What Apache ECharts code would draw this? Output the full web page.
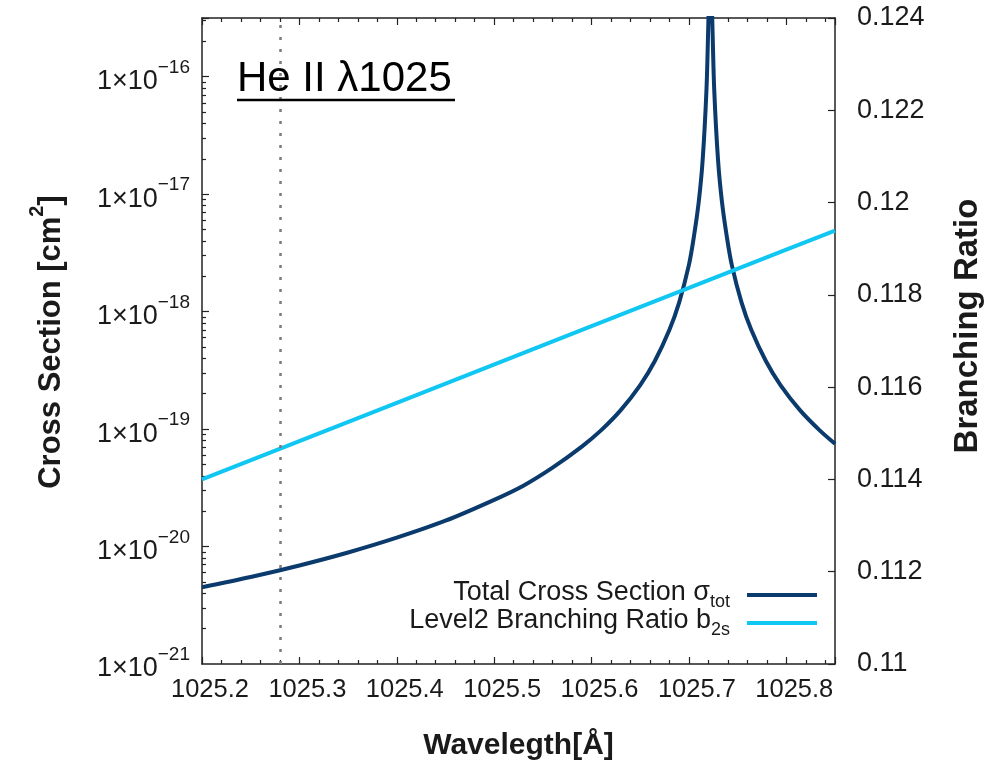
<!DOCTYPE html>
<html><head><meta charset="utf-8">
<script src="https://cdn.jsdelivr.net/npm/echarts@6/dist/echarts.min.js"></script>
<style>html,body{margin:0;padding:0;background:#fff}#c{width:999px;height:766px}</style>
</head><body><div id="c"></div>
<script>
// Wavelength [Å] and total cross section [cm^2]
const wavelength = [1025.20,1025.25,1025.30,1025.35,1025.40,1025.45,1025.50,1025.53,1025.56,1025.59,1025.61,1025.63,1025.65,1025.665,1025.68,1025.69,1025.70,1025.705,1025.71,1025.714,1025.718,1025.720,1025.722,1025.724,1025.726,1025.730,1025.734,1025.739,1025.744,1025.754,1025.764,1025.779,1025.794,1025.814,1025.834,1025.85];
const crossSection = [4.5e-21,5.5e-21,6.9e-21,8.9e-21,1.19e-20,1.66e-20,2.5e-20,3.3e-20,4.7e-20,7.1e-20,9.8e-20,1.45e-19,2.37e-19,3.8e-19,7.0e-19,1.2e-18,2.5e-18,4.3e-18,8.5e-18,1.9e-17,7.7e-17,3.0e-16,1.2e-15,3.0e-16,7.7e-17,1.9e-17,8.5e-18,4.3e-18,2.5e-18,1.2e-18,7.0e-19,3.8e-19,2.37e-19,1.45e-19,9.8e-20,7.5e-20];
// Level-2 branching ratio
const branchWavelength = [1025.2,1025.4,1025.6,1025.8,1025.85];
const branchRatio = [0.1140,0.11566,0.11732,0.11898,0.11939];
// dotted marker
const markerWavelength = 1025.28;
// tick labels
const xTickLabels = [1025.2,1025.3,1025.4,1025.5,1025.6,1025.7,1025.8];
const leftTickExponents = [-21,-20,-19,-18,-17,-16];
const rightTickLabels = [0.11,0.112,0.114,0.116,0.118,0.12,0.122,0.124];
const seriesNames = ['Total Cross Section', 'Level2 Branching Ratio'];

const FONT = 'Liberation Sans, Arial, Helvetica, sans-serif';
const TXT = '#1a1a1a';
const DARK = '#0b3a6c';
const CYAN = '#10c6f2';

// minor log ticks (2..9 x 10^n), expressed in log10 space for the helper axis
const minorLogTicks = [];
leftTickExponents.forEach(n => { for (let k = 2; k <= 9; k++) { const v = Math.log10(k) + n; if (v < -15.5) minorLogTicks.push(v); } });

const gridPos = {left: 202, right: 164, top: 18, bottom: 102, outerBoundsMode: 'none', containLabel: false};
const chart = echarts.init(document.getElementById('c'), null, {renderer: 'canvas'});
const frameLine = {show: true, lineStyle: {color: '#222', width: 1.5}};
const tickStyle = {color: '#222', width: 1.2};

const option = {
  animation: false,
  backgroundColor: '#fff',
  grid: [Object.assign({}, gridPos), Object.assign({}, gridPos), Object.assign({}, gridPos)],
  xAxis: [{
    type: 'value', gridIndex: 0, position: 'bottom', min: 1025.2, max: 1025.85, interval: 0.1,
    axisLine: frameLine, splitLine: {show: false},
    axisTick: {inside: true, length: 7, lineStyle: tickStyle},
    minorTick: {show: true, splitNumber: 5, length: 4, lineStyle: tickStyle},
    axisLabel: {showMaxLabel: false, showMinLabel: true, formatter: v => v.toFixed(1), fontSize: 25.5, fontFamily: FONT, color: TXT, margin: 13, padding: [0, 0, 0, 16]},
    name: 'Wavelegth[Å]', nameLocation: 'middle', nameGap: 67,
    nameTextStyle: {fontSize: 30, fontWeight: 'bold', fontFamily: FONT, color: TXT}
  }, {
    type: 'value', gridIndex: 0, position: 'top', min: 1025.2, max: 1025.85, interval: 0.1,
    axisLine: frameLine, splitLine: {show: false}, axisLabel: {show: false},
    axisTick: {inside: true, length: 7, lineStyle: tickStyle},
    minorTick: {show: true, splitNumber: 5, length: 4, lineStyle: tickStyle}
  }, {
    type: 'value', gridIndex: 1, min: 0, max: 1, show: false
  }, {
    type: 'value', gridIndex: 2, min: 0, max: 1, show: false
  }],
  yAxis: [{
    type: 'log', logBase: 10, gridIndex: 0, position: 'left', min: 1e-21, max: 3.1623e-16,
    axisLine: frameLine, splitLine: {show: false},
    axisTick: {inside: true, length: 7, lineStyle: tickStyle},
    axisLabel: {show: false}
  }, {
    type: 'value', gridIndex: 0, position: 'right', min: 0.11, max: 0.124, interval: 0.002,
    axisLine: frameLine, splitLine: {show: false},
    axisTick: {inside: true, length: 7, lineStyle: tickStyle},
    axisLabel: {fontSize: 27, fontFamily: FONT, color: TXT, margin: 22}
  }, {
    // helper axis in log10 space: minor ticks
    type: 'value', gridIndex: 1, position: 'left', min: -21, max: -15.5,
    axisLine: {show: false}, splitLine: {show: false}, axisLabel: {show: false},
    axisTick: {show: true, inside: true, length: 4, customValues: minorLogTicks, lineStyle: tickStyle}
  }, {
    // helper axis in log10 space: decade labels 1×10^n
    type: 'value', gridIndex: 2, position: 'left', min: -21, max: -15.5,
    axisLine: {show: false}, splitLine: {show: false}, axisTick: {show: false},
    axisLabel: {
      customValues: leftTickExponents, margin: 12,
      formatter: e => '{b|1×10}{s|−' + (-Math.round(e)) + '}',
      rich: {
        b: {fontSize: 27, fontFamily: FONT, color: TXT, verticalAlign: 'bottom', lineHeight: 28},
        s: {fontSize: 19, fontFamily: FONT, color: TXT, verticalAlign: 'top', lineHeight: 37}
      }
    }
  }],
  legend: [{
    data: [seriesNames[0]], right: 177, top: 574, align: 'right', orient: 'vertical',
    icon: 'rect', itemWidth: 70, itemHeight: 4,
    formatter: () => '{a|Total Cross Section σ}{s|tot}',
    textStyle: {padding: [0, 12, 0, 0], rich: {
      a: {fontSize: 27, fontFamily: FONT, color: TXT, verticalAlign: 'top', lineHeight: 30},
      s: {fontSize: 18, fontFamily: FONT, color: TXT, verticalAlign: 'bottom', lineHeight: 32}
    }}
  }, {
    data: [seriesNames[1]], right: 177, top: 602, align: 'right', orient: 'vertical',
    icon: 'rect', itemWidth: 70, itemHeight: 4,
    formatter: () => '{a|Level2 Branching Ratio b}{s|2s}',
    textStyle: {padding: [0, 12, 0, 0], rich: {
      a: {fontSize: 27, fontFamily: FONT, color: TXT, verticalAlign: 'top', lineHeight: 30},
      s: {fontSize: 18, fontFamily: FONT, color: TXT, verticalAlign: 'bottom', lineHeight: 32}
    }}
  }],
  graphic: [{
    type: 'text', left: 237, top: 58, z: 10,
    style: {text: 'He II λ1025', fontSize: 42, fontFamily: FONT, fill: '#000'}
  }, {
    type: 'line', z: 10, shape: {x1: 237, y1: 100, x2: 455, y2: 100},
    style: {stroke: '#000', lineWidth: 2.5}
  }, {
    type: 'text', x: 47, y: 342, rotation: Math.PI / 2, z: 10,
    style: {
      text: '{a|Cross Section [cm}{s|2}{a|]}', align: 'center', verticalAlign: 'middle',
      rich: {
        a: {fontSize: 31, fontWeight: 'bold', fontFamily: FONT, fill: TXT, verticalAlign: 'bottom', lineHeight: 32},
        s: {fontSize: 20, fontWeight: 'bold', fontFamily: FONT, fill: TXT, verticalAlign: 'top', lineHeight: 40}
      }
    }
  }, {
    type: 'text', x: 968, y: 326, rotation: Math.PI / 2, z: 10,
    style: {text: 'Branching Ratio', align: 'center', verticalAlign: 'middle', fontSize: 33, fontWeight: 'bold', fontFamily: FONT, fill: TXT}
  }],
  series: [{
    name: seriesNames[0], type: 'line', xAxisIndex: 0, yAxisIndex: 0,
    data: wavelength.map((w, i) => [w, crossSection[i]]),
    showSymbol: false, symbol: 'none', smooth: 0.3, clip: true,
    lineStyle: {color: DARK, width: 4}, itemStyle: {color: DARK}, z: 3,
    markLine: {
      silent: true, symbol: ['none', 'none'], label: {show: false},
      lineStyle: {type: [3, 9], color: '#7a7a7a', width: 2.5},
      data: [{xAxis: markerWavelength}]
    }
  }, {
    name: seriesNames[1], type: 'line', xAxisIndex: 0, yAxisIndex: 1,
    data: branchWavelength.map((w, i) => [w, branchRatio[i]]),
    showSymbol: false, symbol: 'none', clip: true,
    lineStyle: {color: CYAN, width: 4}, itemStyle: {color: CYAN}, z: 4
  }]
};
chart.setOption(option);
</script></body></html>
